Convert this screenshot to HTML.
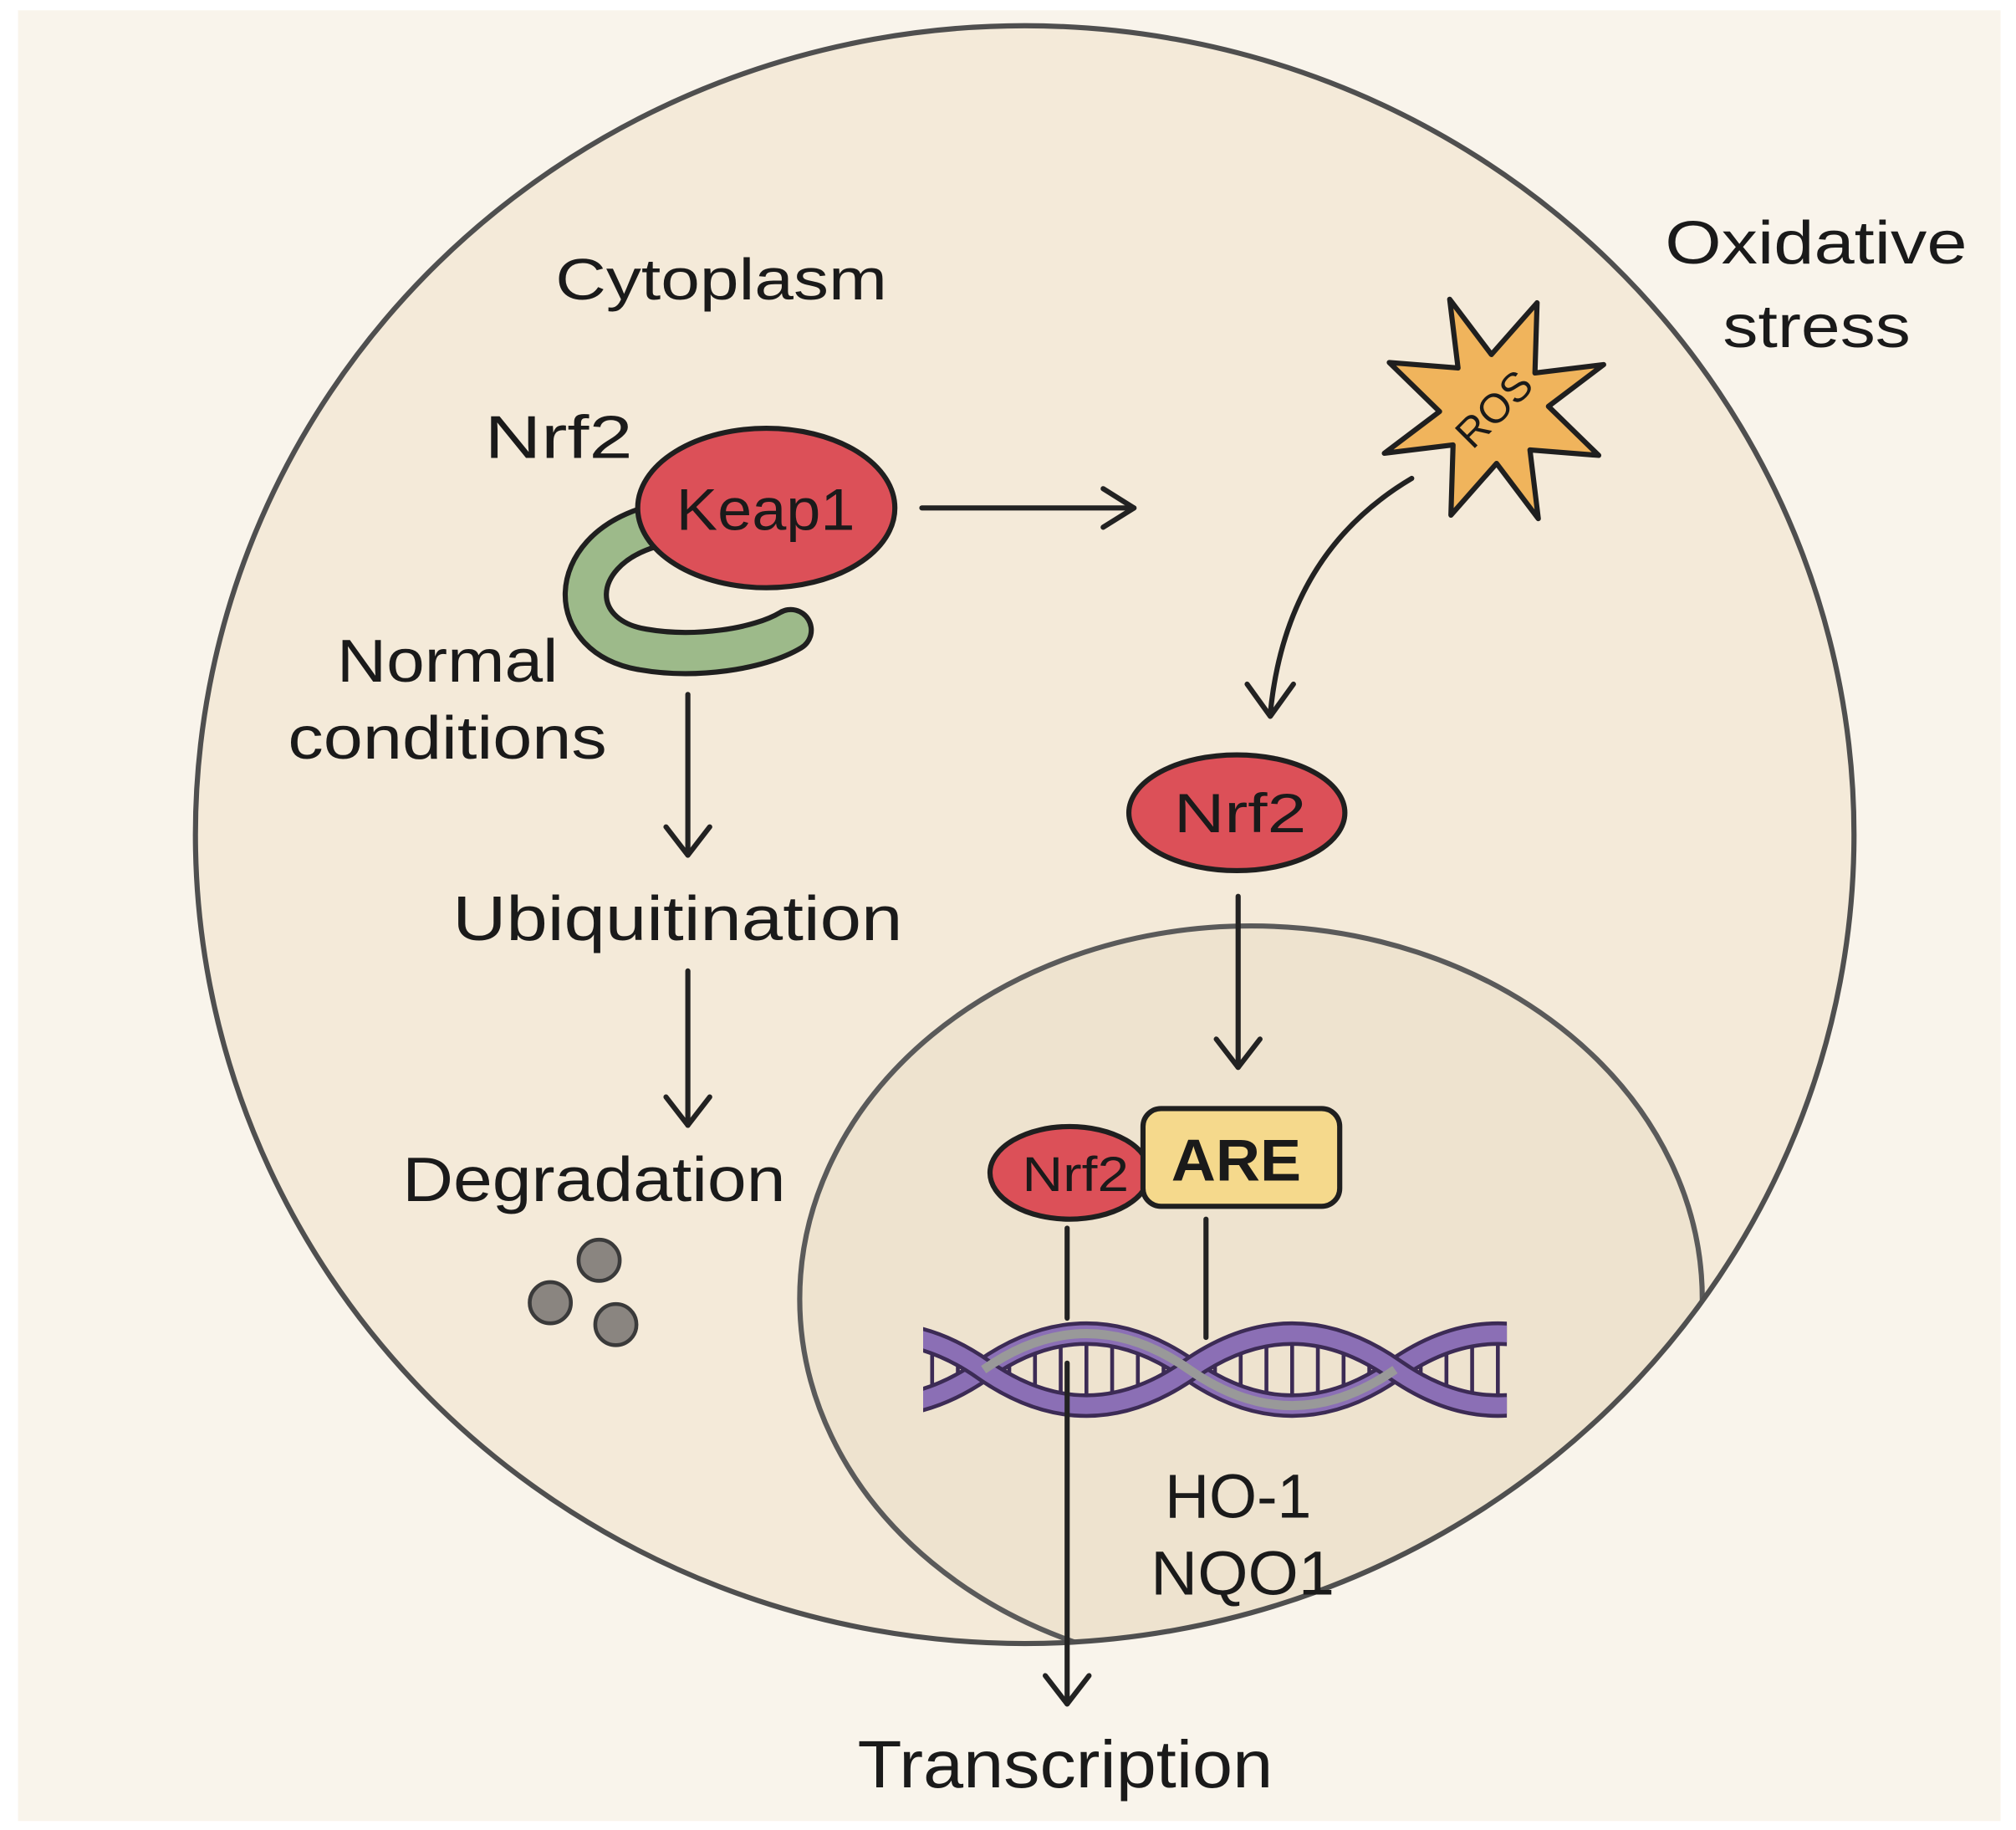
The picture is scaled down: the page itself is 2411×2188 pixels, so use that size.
<!DOCTYPE html>
<html><head><meta charset="utf-8"><style>
html,body{margin:0;padding:0;background:#fff;}
svg{display:block;}
text{font-family:"Liberation Sans",sans-serif;fill:#1a1a1a;}
</style></head><body>
<svg width="2411" height="2188" viewBox="0 0 1568 1423" preserveAspectRatio="none" xmlns="http://www.w3.org/2000/svg">
<defs>
<clipPath id="cell"><ellipse cx="797" cy="649" rx="645" ry="629"/></clipPath>
<clipPath id="dna"><rect x="718" y="990" width="454" height="150"/></clipPath>
</defs>
<rect x="0" y="0" width="1568" height="1423" fill="#fff"/>
<rect x="14" y="8" width="1542" height="1408" fill="#f9f4eb"/>
<ellipse cx="797" cy="649" rx="645" ry="629" fill="#f4ead9"/>
<g clip-path="url(#cell)">
<ellipse cx="973" cy="1010" rx="351" ry="290" fill="#eee3cf" stroke="#5a5a5a" stroke-width="4"/>
</g>
<ellipse cx="797" cy="649" rx="645" ry="629" fill="none" stroke="#4f4f4f" stroke-width="4"/>

<!-- labels -->
<g lengthAdjust="spacingAndGlyphs">
<text x="432" y="233" font-size="45" textLength="258" lengthAdjust="spacingAndGlyphs">Cytoplasm</text>
<text x="377" y="356" font-size="47" textLength="115" lengthAdjust="spacingAndGlyphs">Nrf2</text>
<text x="262" y="530" font-size="47" textLength="172" lengthAdjust="spacingAndGlyphs">Normal</text>
<text x="224" y="590" font-size="47" textLength="248" lengthAdjust="spacingAndGlyphs">conditions</text>
<text x="352" y="731" font-size="49" textLength="350" lengthAdjust="spacingAndGlyphs">Ubiquitination</text>
<text x="313" y="934" font-size="49" textLength="298" lengthAdjust="spacingAndGlyphs">Degradation</text>
<text x="1295" y="205" font-size="47" textLength="235" lengthAdjust="spacingAndGlyphs">Oxidative</text>
<text x="1340" y="270" font-size="47" textLength="146" lengthAdjust="spacingAndGlyphs">stress</text>
<text x="906" y="1180" font-size="48" textLength="114" lengthAdjust="spacingAndGlyphs">HO-1</text>
<text x="895" y="1240" font-size="48" textLength="143" lengthAdjust="spacingAndGlyphs">NQO1</text>
<text x="667" y="1390" font-size="52" textLength="323" lengthAdjust="spacingAndGlyphs">Transcription</text>
</g>

<!-- green C -->
<path d="M505,410 C440,430 440,495 500,505 C540,512 590,505 615,490" fill="none" stroke="#1f1f1f" stroke-width="36" stroke-linecap="round"/>
<path d="M505,410 C440,430 440,495 500,505 C540,512 590,505 615,490" fill="none" stroke="#9dba8a" stroke-width="28" stroke-linecap="round"/>
<!-- Keap1 -->
<ellipse cx="596" cy="395" rx="100" ry="62" fill="#dc5058" stroke="#1f1f1f" stroke-width="4"/>
<text x="526" y="412" font-size="46" textLength="139" lengthAdjust="spacingAndGlyphs">Keap1</text>

<!-- arrows -->
<g stroke="#222" stroke-width="4" fill="none" stroke-linecap="round" stroke-linejoin="round">
<line x1="717" y1="395" x2="882" y2="395"/><polyline points="858,380 882,395 858,410"/>
<line x1="535" y1="540" x2="535" y2="665"/><polyline points="518,643 535,665 552,643"/>
<line x1="535" y1="755" x2="535" y2="875"/><polyline points="518,853 535,875 552,853"/>
<path d="M1098,372 Q1000,430 988,555"/><polyline points="970,532 988,557 1006,532"/>
<line x1="963" y1="697" x2="963" y2="830"/><polyline points="946,808 963,830 980,808"/>
<line x1="830" y1="955" x2="830" y2="1025"/>
<line x1="938" y1="948" x2="938" y2="1040"/>
</g>

<!-- degradation dots -->
<g fill="#8a8580" stroke="#3a3a3a" stroke-width="3">
<circle cx="466" cy="980" r="16"/><circle cx="428" cy="1013" r="16"/><circle cx="479" cy="1030" r="16"/>
</g>

<!-- ROS star -->
<g transform="translate(1162,318)">
<polygon points="0,-92 14,-40 62,-64 40,-14 92,0 40,14 62,64 14,40 0,92 -14,40 -62,64 -40,14 -92,0 -40,-14 -62,-64 -14,-40" transform="rotate(-22)" fill="#f0b45c" stroke="#1f1f1f" stroke-width="4" stroke-linejoin="round"/>
<text x="0" y="11" font-size="32" text-anchor="middle" transform="rotate(-45)">ROS</text>
</g>

<!-- Nrf2 free -->
<ellipse cx="962" cy="632" rx="84" ry="45" fill="#dc5058" stroke="#1f1f1f" stroke-width="4"/>
<text x="913" y="647" font-size="43" textLength="103" lengthAdjust="spacingAndGlyphs">Nrf2</text>

<!-- Nrf2 + ARE -->
<ellipse cx="832" cy="912" rx="62" ry="36" fill="#dc5058" stroke="#1f1f1f" stroke-width="4"/>
<text x="795" y="926" font-size="38" textLength="83" lengthAdjust="spacingAndGlyphs">Nrf2</text>
<rect x="889" y="862" width="153" height="76" rx="14" fill="#f5d98c" stroke="#1f1f1f" stroke-width="4"/>
<text x="911" y="918" font-size="46" font-weight="bold" textLength="101" lengthAdjust="spacingAndGlyphs">ARE</text>

<!-- DNA -->
<g clip-path="url(#dna)">
<g stroke="#3c2b55" stroke-width="3">
<line x1="725" y1="1045" x2="725" y2="1085"/><line x1="745" y1="1054" x2="745" y2="1076"/>
<line x1="785" y1="1054" x2="785" y2="1076"/><line x1="805" y1="1045" x2="805" y2="1085"/><line x1="825" y1="1039" x2="825" y2="1091"/><line x1="845" y1="1037" x2="845" y2="1093"/><line x1="865" y1="1039" x2="865" y2="1091"/><line x1="885" y1="1045" x2="885" y2="1085"/><line x1="905" y1="1054" x2="905" y2="1076"/>
<line x1="945" y1="1054" x2="945" y2="1076"/><line x1="965" y1="1045" x2="965" y2="1085"/><line x1="985" y1="1039" x2="985" y2="1091"/><line x1="1005" y1="1037" x2="1005" y2="1093"/><line x1="1025" y1="1039" x2="1025" y2="1091"/><line x1="1045" y1="1045" x2="1045" y2="1085"/><line x1="1065" y1="1054" x2="1065" y2="1076"/>
<line x1="1105" y1="1054" x2="1105" y2="1076"/><line x1="1125" y1="1045" x2="1125" y2="1085"/><line x1="1145" y1="1039" x2="1145" y2="1091"/><line x1="1165" y1="1037" x2="1165" y2="1093"/>
</g>
<g fill="none">
<path d="M605,1065 Q685,1121 765,1065 T925,1065 T1085,1065 T1245,1065" stroke="#3c2b55" stroke-width="19"/>
<path d="M605,1065 Q685,1121 765,1065 T925,1065 T1085,1065 T1245,1065" stroke="#8b6fb5" stroke-width="13"/>
<path d="M605,1065 Q685,1009 765,1065 T925,1065 T1085,1065 T1245,1065" stroke="#3c2b55" stroke-width="19"/>
<path d="M605,1065 Q685,1009 765,1065 T925,1065 T1085,1065 T1245,1065" stroke="#8b6fb5" stroke-width="13"/>
</g>
</g>
<path d="M765,1065 Q845,1009 925,1065 T1085,1065" fill="none" stroke="#999" stroke-width="7"/>

<!-- transcription arrow -->
<g stroke="#222" stroke-width="4" fill="none" stroke-linecap="round" stroke-linejoin="round">
<line x1="830" y1="1060" x2="830" y2="1325"/><polyline points="813,1303 830,1325 847,1303"/>
</g>
</svg>
</body></html>
